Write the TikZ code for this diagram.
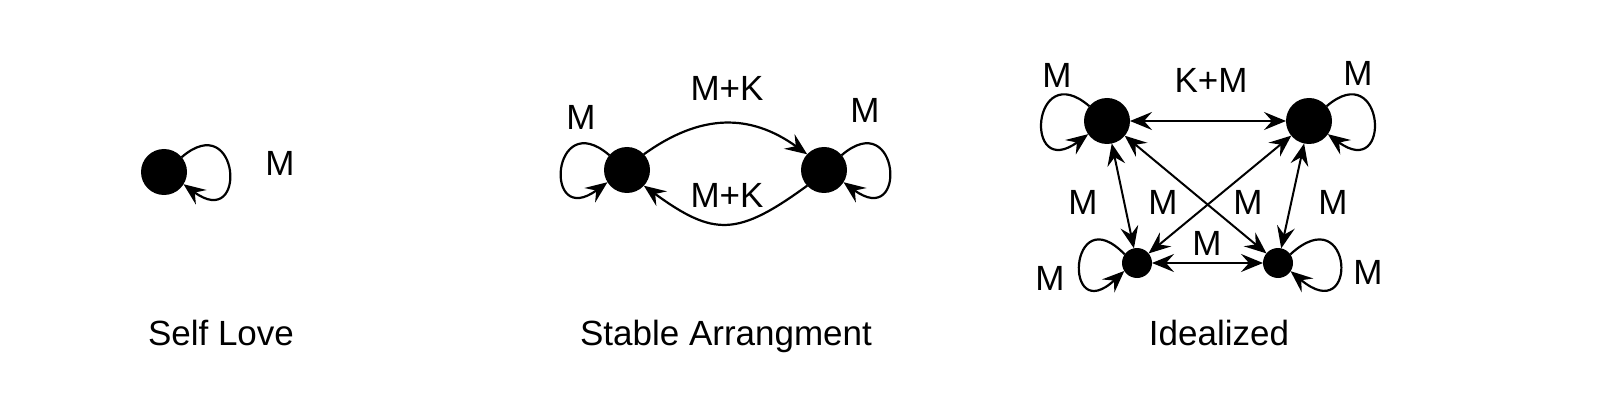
\documentclass[tikz,border=0pt]{standalone}
\usepackage{fontspec}
\setmainfont{Liberation Sans}
\usetikzlibrary{arrows.meta}
\begin{document}
\begin{tikzpicture}[x=1pt,y=1pt,
  big/.style={circle,fill=black,inner sep=0pt,outer sep=0pt,minimum size=46pt},
  small/.style={circle,fill=black,inner sep=0pt,outer sep=0pt,minimum size=30pt},
  tip/.tip={Stealth[length=22pt,width=18pt,inset=8pt]},
  arr/.style={-tip,line width=2.2pt},
  darr/.style={tip-tip,line width=2pt},
  lbl/.style={inner sep=0pt,font=\fontsize{35}{42}\selectfont},
  ttl/.style={inner sep=0pt,anchor=base,font=\fontsize{35}{42}\selectfont}]
\useasboundingbox[fill=white] (0,0) rectangle (1600,-414);

% Self Love
\node[big] (s) at (164,-172) {};
\draw[arr] (s.40) .. controls +(58,50) and +(65,-48) .. (s.-32);
\node[lbl] (sm) at (280,-163) {M};
\node[ttl] (st) at (221,-345) {Self Love};

% Stable Arrangment
\node[big] (sl) at (627,-170) {};
\node[big] (sr) at (824,-170) {};
\draw[arr] (sl.140) .. controls +(-58,50) and +(-65,-48) .. (sl.212);
\draw[arr] (sr.40) .. controls +(58,50) and +(65,-48) .. (sr.-32);
\draw[arr] (sl.43) .. controls +(57,41) and +(-57,41) .. (sr.137);
\draw[arr] (sr.-137) .. controls +(-70,-51) and +(70,-51) .. (sl.-43);
\node[lbl] (mk1) at (727,-88) {M+K};
\node[lbl] (mk2) at (727,-195) {M+K};
\node[lbl] (ml) at (581,-117) {M};
\node[lbl] (mr) at (865,-110) {M};
\node[ttl] (sat) at (726,-345) {Stable Arrangment};

% Idealized
\node[big] (a) at (1107,-121) {};
\node[big] (b) at (1309,-121) {};
\node[small] (c) at (1137,-263) {};
\node[small] (d) at (1278,-263) {};
\draw[arr] (a.140) .. controls +(-58,50) and +(-65,-48) .. (a.215);
\draw[arr] (b.40) .. controls +(58,50) and +(65,-48) .. (b.-35);
\draw[arr] (c.145) .. controls +(-56,58) and +(-62,-58) .. (c.212);
\draw[arr] (d.35) .. controls +(63,58) and +(69,-58) .. (d.-33);
\draw[darr] (a) -- (b);
\draw[darr] (a) -- (c);
\draw[darr] (a) -- (d);
\draw[darr] (b) -- (c);
\draw[darr] (b) -- (d);
\draw[darr] (c) -- (d);
\node[lbl] (l1) at (1057,-75) {M};
\node[lbl] (l2) at (1211,-80) {K+M};
\node[lbl] (l3) at (1358,-73) {M};
\node[lbl] (l4) at (1083,-202) {M};
\node[lbl] (l5) at (1163,-202) {M};
\node[lbl] (l6) at (1248,-202) {M};
\node[lbl] (l7) at (1333,-202) {M};
\node[lbl] (l8) at (1207,-243) {M};
\node[lbl] (l9) at (1050,-278) {M};
\node[lbl] (l10) at (1368,-272) {M};
\node[ttl] (it) at (1219,-345) {Idealized};
\end{tikzpicture}
\end{document}
